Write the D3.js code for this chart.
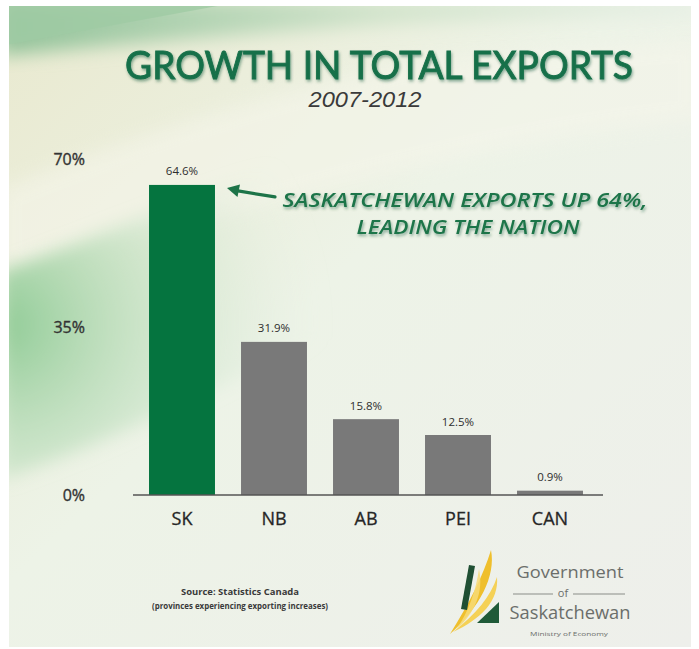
<!DOCTYPE html>
<html>
<head>
<meta charset="utf-8">
<script src="https://cdn.jsdelivr.net/npm/d3@7"></script>
<style>
  html, body { margin: 0; padding: 0; background: #ffffff; }
  svg { display: block; }
</style>
</head>
<body>
<div id="chart"></div>
<script>
// ---- data ----
const categories = ["SK", "NB", "AB", "PEI", "CAN"];
const values = [64.6, 31.9, 15.8, 12.5, 0.9];
const yTicks = [0, 35, 70];
const barColors = ["#05743f", "#797979", "#797979", "#797979", "#797979"];
const titleText = "GROWTH IN TOTAL EXPORTS";
const subtitleText = "2007-2012";
const calloutLines = ["SASKATCHEWAN EXPORTS UP 64%,", "LEADING THE NATION"];
const sourceLines = ["Source: Statistics Canada", "(provinces experiencing exporting increases)"];
const logoLines = ["Government", "of", "Saskatchewan", "Ministry of Economy"];

const W = 699, H = 649;
const svg = d3.select("#chart").append("svg").attr("width", W).attr("height", H);
const defs = svg.append("defs");

// ---- background ----
const bg = defs.append("linearGradient").attr("id", "bg").attr("x1", 0).attr("y1", 0).attr("x2", 1).attr("y2", 1);
bg.append("stop").attr("offset", "0%").attr("stop-color", "#e9e9cf");
bg.append("stop").attr("offset", "45%").attr("stop-color", "#edf3e7");
bg.append("stop").attr("offset", "100%").attr("stop-color", "#eeefeb");

const blur = defs.append("filter").attr("id", "soft").attr("x", "-30%").attr("y", "-30%").attr("width", "160%").attr("height", "160%");
blur.append("feGaussianBlur").attr("stdDeviation", 9);

const clip = defs.append("clipPath").attr("id", "panel");
clip.append("rect").attr("x", 9).attr("y", 6).attr("width", 682).attr("height", 641);

const topG = defs.append("linearGradient").attr("id", "topg").attr("x1", 0).attr("y1", 0).attr("x2", 1).attr("y2", 0);
topG.append("stop").attr("offset", "0%").attr("stop-color", "#93c39a");
topG.append("stop").attr("offset", "55%").attr("stop-color", "#d2e4cc");
topG.append("stop").attr("offset", "100%").attr("stop-color", "#e6efe5");

const leftG = defs.append("radialGradient").attr("id", "leftg").attr("cx", 0).attr("cy", 0.55).attr("r", 0.9);
leftG.append("stop").attr("offset", "0%").attr("stop-color", "#8fcb95").attr("stop-opacity", 1);
leftG.append("stop").attr("offset", "100%").attr("stop-color", "#e2eee0").attr("stop-opacity", 0);

const bgG = svg.append("g").attr("clip-path", "url(#panel)");
bgG.append("rect").attr("x", 9).attr("y", 6).attr("width", 682).attr("height", 641).attr("fill", "url(#bg)");
bgG.append("path").attr("d", "M0,0 L700,0 L700,14 C520,16 330,24 0,56 Z").attr("fill", "url(#topg)").attr("filter", "url(#soft)");
bgG.append("path").attr("d", "M0,0 L250,0 L0,46 Z").attr("fill", "#9fcaa4").attr("opacity", 0.8);
// light diagonal band
bgG.append("path").attr("d", "M0,190 C120,140 260,95 420,60 L700,40 L700,120 C480,140 260,210 0,275 Z").attr("fill", "#f5f5ea").attr("opacity", 0.6).attr("filter", "url(#soft)");
// green left wash
bgG.append("path").attr("d", "M0,272 C100,235 220,185 360,135 L360,320 C250,370 120,440 0,480 Z").attr("fill", "url(#leftg)").attr("filter", "url(#soft)");

// ---- scales ----
const x = d3.scaleBand().domain(categories).range([136, 596]).paddingInner(0.283).paddingOuter(0.1415);
const y = d3.scaleLinear().domain([0, 70]).range([495, 159]);

// ---- title ----
const shadow = defs.append("filter").attr("id", "tshadow").attr("x", "-5%").attr("y", "-20%").attr("width", "110%").attr("height", "150%");
shadow.append("feDropShadow").attr("dx", 1).attr("dy", 2).attr("stdDeviation", 1.6).attr("flood-color", "#0b4a2a").attr("flood-opacity", 0.45);

svg.append("text")
  .attr("x", 379).attr("y", 79)
  .attr("text-anchor", "middle")
  .attr("textLength", 508).attr("lengthAdjust", "spacingAndGlyphs")
  .attr("font-family", "Lato, 'Open Sans', sans-serif").attr("font-weight", 400).attr("font-size", 38)
  .attr("fill", "#17704a").attr("stroke", "#17704a").attr("stroke-width", 0.9)
  .attr("filter", "url(#tshadow)")
  .text(titleText);

svg.append("text")
  .attr("x", 365).attr("y", 107)
  .attr("text-anchor", "middle")
  .attr("textLength", 113).attr("lengthAdjust", "spacingAndGlyphs")
  .attr("font-family", "'Liberation Sans', Arial, sans-serif").attr("font-style", "italic").attr("font-size", 22)
  .attr("fill", "#3a3a3a")
  .text(subtitleText);

// ---- bars ----
svg.append("g").selectAll("rect").data(values).join("rect")
  .attr("x", (d, i) => x(categories[i]))
  .attr("y", d => y(d))
  .attr("width", x.bandwidth())
  .attr("height", d => y(0) - y(d))
  .attr("fill", (d, i) => barColors[i]);

// value labels
svg.append("g").selectAll("text").data(values).join("text")
  .attr("x", (d, i) => x(categories[i]) + x.bandwidth() / 2)
  .attr("y", d => y(d) - 9.5)
  .attr("text-anchor", "middle")
  .attr("font-family", "'Open Sans', sans-serif").attr("font-size", 11.5)
  .attr("fill", "#2e2e2e")
  .text(d => d3.format(".1f")(d) + "%");

// baseline
svg.append("line")
  .attr("x1", x.range()[0] - 3).attr("x2", x.range()[1] + 7)
  .attr("y1", y(0)).attr("y2", y(0))
  .attr("stroke", "#555").attr("stroke-width", 1.6);

// x axis (category labels)
const xAxis = svg.append("g").attr("transform", `translate(0,${y(0)})`)
  .call(d3.axisBottom(x).tickSize(0).tickPadding(17));
xAxis.select(".domain").remove();
xAxis.selectAll("text")
  .attr("font-family", "'Open Sans', sans-serif").attr("font-size", 18)
  .attr("fill", "#262626").attr("stroke", "#262626").attr("stroke-width", 0.3);

// y axis (tick labels only)
const yAxis = svg.append("g").attr("transform", "translate(85,0)")
  .call(d3.axisLeft(y).tickValues(yTicks).tickSize(0).tickPadding(0).tickFormat(d => d + "%"));
yAxis.select(".domain").remove();
yAxis.selectAll("text")
  .attr("font-family", "'Open Sans', sans-serif").attr("font-size", 16)
  .attr("fill", "#333").attr("stroke", "#333").attr("stroke-width", 0.35);

// ---- callout ----
const skTop = y(values[0]);
const skRight = x(categories[0]) + x.bandwidth();
const aColor = "#1d7448";
svg.append("line")
  .attr("x1", skRight + 20).attr("y1", skTop + 5.5)
  .attr("x2", skRight + 60).attr("y2", skTop + 12)
  .attr("stroke", aColor).attr("stroke-width", 3.2).attr("stroke-linecap", "round");
svg.append("path")
  .attr("d", `M${skRight + 12},${skTop + 3} L${skRight + 25},${skTop - 0.5} L${skRight + 22.5},${skTop + 12} Z`)
  .attr("fill", aColor);

const callout = svg.append("g")
  .attr("font-family", "'Open Sans', sans-serif").attr("font-weight", 600).attr("font-style", "italic")
  .attr("font-size", 20).attr("fill", aColor).attr("filter", "url(#tshadow)");
callout.append("text").attr("x", 465).attr("y", 207).attr("text-anchor", "middle")
  .attr("textLength", 365).attr("lengthAdjust", "spacingAndGlyphs").text(calloutLines[0]);
callout.append("text").attr("x", 468).attr("y", 234).attr("text-anchor", "middle")
  .attr("textLength", 223).attr("lengthAdjust", "spacingAndGlyphs").text(calloutLines[1]);

// ---- source ----
const src = svg.append("g").attr("font-family", "'Open Sans', sans-serif").attr("font-weight", 700)
  .attr("font-size", 9.5).attr("fill", "#3a3a3a").attr("text-anchor", "middle");
src.append("text").attr("x", 240).attr("y", 595).attr("textLength", 118).attr("lengthAdjust", "spacingAndGlyphs").text(sourceLines[0]);
src.append("text").attr("x", 240).attr("y", 609).attr("textLength", 176).attr("lengthAdjust", "spacingAndGlyphs").text(sourceLines[1]);

// ---- logo ----
const logo = svg.append("g");
// yellow feathers
logo.append("path").attr("d", "M450,634 C470,602 483,576 491,550 C496,576 480,607 450,634 Z").attr("fill", "#efbf2c");
logo.append("path").attr("d", "M453,632 C476,614 491,596 497,577 C499,601 481,619 453,632 Z").attr("fill", "#f4cf4e").attr("opacity", 0.95);
logo.append("path").attr("d", "M456,630 C469,611 476,590 479,569 C484,592 475,613 456,630 Z").attr("fill", "#f7da78").attr("opacity", 0.85);
// dark green pieces
logo.append("path").attr("d", "M469,565 L475,566 L467,610 L461,609 Z").attr("fill", "#1f4f33");
logo.append("path").attr("d", "M499,602 L499,623 L477,623 Z").attr("fill", "#1f5a38");

const lt = logo.append("g").attr("font-family", "'Open Sans', sans-serif").attr("fill", "#6b6e6a").attr("text-anchor", "middle");
lt.append("text").attr("x", 570).attr("y", 578).attr("font-size", 16).attr("textLength", 107).attr("lengthAdjust", "spacingAndGlyphs").text(logoLines[0]);
lt.append("text").attr("x", 563).attr("y", 597).attr("font-size", 11).text(logoLines[1]);
logo.append("line").attr("x1", 513).attr("x2", 553).attr("y1", 594).attr("y2", 594).attr("stroke", "#8a8d88").attr("stroke-width", 1);
logo.append("line").attr("x1", 573).attr("x2", 625).attr("y1", 594).attr("y2", 594).attr("stroke", "#8a8d88").attr("stroke-width", 1);
lt.append("text").attr("x", 570).attr("y", 619).attr("font-size", 18).attr("textLength", 121).attr("lengthAdjust", "spacingAndGlyphs").text(logoLines[2]);
lt.append("text").attr("x", 569).attr("y", 636).attr("font-size", 6).attr("textLength", 78).attr("lengthAdjust", "spacingAndGlyphs").text(logoLines[3]);
</script>
</body>
</html>
